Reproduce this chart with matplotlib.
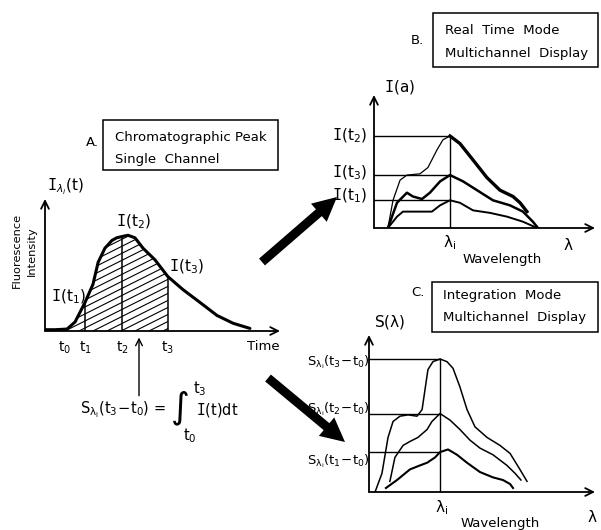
import numpy as np
import matplotlib
matplotlib.use("Agg")
import matplotlib.pyplot as plt
from matplotlib.patches import Rectangle, FancyArrow, Polygon

W, H = 601, 530
plt.rcParams['font.family'] = ['DejaVu Sans']
plt.rcParams['mathtext.fontset'] = 'custom'
plt.rcParams['mathtext.rm'] = 'DejaVu Sans'
plt.rcParams['mathtext.it'] = 'DejaVu Sans:italic'
plt.rcParams['mathtext.tt'] = 'DejaVu Sans Mono'

# ---------------- data ----------------
# A. chromatographic peak on a single channel (time, intensity)
chrom_time = [0.0, 0.43, 0.94, 1.28, 1.70, 2.04, 2.26, 2.55, 2.85, 3.05, 3.28, 3.53,
              3.83, 4.17, 4.68, 5.23, 5.87, 6.60, 7.32, 8.00, 8.72]
chrom_int = [0.01, 0.01, 0.015, 0.07, 0.22, 0.36, 0.53, 0.64, 0.70, 0.72, 0.73, 0.74,
             0.72, 0.64, 0.55, 0.42, 0.32, 0.22, 0.12, 0.06, 0.02]
t_marks = [0.85, 1.70, 3.28, 5.23]          # t0, t1, t2, t3
t_labels = ['$\\mathrm{t_0}$', '$\\mathrm{t_1}$', '$\\mathrm{t_2}$', '$\\mathrm{t_3}$']
t_arrow = 4.0

# B. real-time spectra at t1, t2, t3 (wavelength, intensity)
lambda_i_B = 3.44
specB_t2_x = [0.63, 0.86, 1.18, 1.49, 2.08, 2.44, 2.85, 3.12, 3.44, 3.89, 4.48,
              5.11, 5.70, 6.29, 6.61, 6.92]
specB_t2_y = [0.0, 0.22, 0.38, 0.42, 0.43, 0.48, 0.62, 0.70, 0.73, 0.67, 0.54,
              0.40, 0.30, 0.25, 0.20, 0.13]
specB_t3_x = [0.63, 1.04, 1.49, 1.76, 2.17, 2.53, 2.99, 3.44, 4.03, 4.66, 5.38,
              6.15, 6.74, 7.19, 7.42]
specB_t3_y = [0.0, 0.20, 0.28, 0.25, 0.23, 0.28, 0.37, 0.42, 0.37, 0.30, 0.22,
              0.18, 0.13, 0.05, 0.0]
specB_t1_x = [0.63, 1.04, 1.31, 1.95, 2.62, 2.99, 3.44, 3.89, 4.48, 5.25, 6.02,
              6.74, 7.38]
specB_t1_y = [0.0, 0.09, 0.13, 0.13, 0.13, 0.18, 0.22, 0.20, 0.14, 0.12, 0.09,
              0.05, 0.0]
levels_B = [0.22, 0.73, 0.42]               # I(t1), I(t2), I(t3)

# C. integrated spectra (wavelength, signal)
lambda_i_C = 3.40
specC_3_x = [0.29, 0.62, 0.77, 0.91, 1.15, 1.48, 1.87, 2.30, 2.54, 2.68, 2.82,
             3.06, 3.40, 3.73, 4.02, 4.35, 4.69, 5.07, 5.65, 6.27, 6.75, 7.22, 7.56]
specC_3_y = [0.0, 0.14, 0.28, 0.41, 0.53, 0.57, 0.58, 0.57, 0.62, 0.77, 0.92,
             0.98, 1.00, 0.98, 0.93, 0.79, 0.62, 0.49, 0.41, 0.35, 0.29, 0.17, 0.08]
specC_2_x = [1.00, 1.24, 1.63, 1.96, 2.34, 2.78, 3.01, 3.40, 3.88, 4.35, 4.83,
             5.31, 5.93, 6.60, 6.99, 7.27]
specC_2_y = [0.08, 0.26, 0.35, 0.38, 0.41, 0.47, 0.53, 0.59, 0.54, 0.47, 0.39,
             0.33, 0.28, 0.20, 0.14, 0.09]
specC_1_x = [0.81, 1.34, 1.96, 2.44, 2.78, 3.16, 3.40, 3.78, 4.21, 4.69, 5.31,
             5.93, 6.41, 6.75, 6.89]
specC_1_y = [0.03, 0.09, 0.17, 0.20, 0.22, 0.26, 0.30, 0.32, 0.28, 0.22, 0.15,
             0.11, 0.09, 0.06, 0.03]
levels_C = [0.30, 0.59, 1.00]               # S(t1-t0), S(t2-t0), S(t3-t0)

# ---------------- figure ----------------
fig = plt.figure(figsize=(W / 100, H / 100), dpi=100)
ov = fig.add_axes([0, 0, 1, 1])
ov.set_xlim(0, W)
ov.set_ylim(H, 0)
ov.axis('off')


def panel(x0, ybase, x1, ytop, xmax, ymax):
    ax = fig.add_axes([x0 / W, 1 - ybase / H, (x1 - x0) / W, (ybase - ytop) / H])
    ax.set_xlim(0, xmax)
    ax.set_ylim(0, ymax)
    ax.axis('off')
    ax.patch.set_alpha(0)
    for frac in [(0, 1), (1, 0)]:
        ax.annotate('', xy=frac, xytext=(0, 0), xycoords='axes fraction',
                    arrowprops=dict(arrowstyle='->', lw=1.3, color='k',
                                    mutation_scale=14, shrinkA=0, shrinkB=0))
    return ax


def I_lab(sub):
    return r'$\mathtt{I}\mathrm{(t_%s)}$' % sub


# ----- panel A -----
axA = panel(45, 331, 280, 199, 10.0, 1.02)
axA.plot(chrom_time, chrom_int, color='k', lw=2.2, solid_capstyle='round',
         solid_joinstyle='round')
tt = np.linspace(t_marks[0], t_marks[3], 200)
ii = np.interp(tt, chrom_time, chrom_int)
poly = np.column_stack([np.r_[tt, tt[::-1]], np.r_[ii, np.zeros_like(ii)]])
clip = Polygon(poly, closed=True, facecolor='none', edgecolor='none')
axA.add_patch(clip)
# shallow diagonal hatching under the peak between t0 and t3
slope = 0.5 * (23.5 / 129.0)
for c in np.arange(-1.0, 1.0, 7.0 / 129.0):
    hl, = axA.plot([0, 10], [c, c + slope * 10], color='k', lw=0.8)
    hl.set_clip_path(clip)
for tm in t_marks[1:]:
    axA.plot([tm, tm], [0, np.interp(tm, chrom_time, chrom_int)], color='k', lw=1.1)
for tm, lab in zip(t_marks, t_labels):
    axA.text(tm, -0.07, lab, ha='center', va='top', fontsize=10)
axA.annotate('', xy=(t_arrow, -0.05), xytext=(t_arrow, -0.5),
             arrowprops=dict(arrowstyle='->', lw=1.0, color='k', mutation_scale=12,
                             shrinkA=0, shrinkB=0), annotation_clip=False)

# ----- panel B -----
axB = panel(374, 228, 595, 95, 221 / 22.1, 133 / 126)
for lv in levels_B:
    axB.plot([0, lambda_i_B], [lv, lv], color='k', lw=1.0)
axB.plot([lambda_i_B, lambda_i_B], [0, max(levels_B)], color='k', lw=1.0)
cut = specB_t2_x.index(lambda_i_B) + 1
axB.plot(specB_t2_x[:cut], specB_t2_y[:cut], color='k', lw=0.9)
axB.plot(specB_t2_x[cut - 1:], specB_t2_y[cut - 1:], color='k', lw=2.4,
         solid_joinstyle='round')
axB.plot(specB_t3_x, specB_t3_y, color='k', lw=1.8, solid_joinstyle='round')
axB.plot(specB_t1_x, specB_t1_y, color='k', lw=1.4, solid_joinstyle='round')

# ----- panel C -----
axC = panel(369, 492, 595, 335, 226 / 20.9, 157 / 133)
for lv in levels_C:
    axC.plot([0, lambda_i_C], [lv, lv], color='k', lw=1.0)
axC.plot([lambda_i_C, lambda_i_C], [0, max(levels_C)], color='k', lw=1.0)
axC.plot(specC_3_x, specC_3_y, color='k', lw=1.1)
axC.plot(specC_2_x, specC_2_y, color='k', lw=1.1)
axC.plot(specC_1_x, specC_1_y, color='k', lw=1.5)

# ----- boxes and captions -----
for (x0, y0, x1, y1) in [(103, 120, 278, 170), (433, 13, 598, 67), (432, 282, 598, 332)]:
    ov.add_patch(Rectangle((x0, y0), x1 - x0, y1 - y0, fill=False, lw=1.1, ec='k'))

fs = 9.5
ov.text(92, 142, 'A.', fontsize=fs, ha='center', va='center')
ov.text(115, 138, 'Chromatographic Peak', fontsize=fs, va='center')
ov.text(115, 160, 'Single  Channel', fontsize=fs, va='center')
ov.text(417, 40, 'B.', fontsize=fs, ha='center', va='center')
ov.text(445, 30, 'Real  Time  Mode', fontsize=fs, va='center')
ov.text(445, 53, 'Multichannel  Display', fontsize=fs, va='center')
ov.text(418, 293, 'C.', fontsize=fs, ha='center', va='center')
ov.text(443, 295, 'Integration  Mode', fontsize=fs, va='center')
ov.text(443, 318, 'Multichannel  Display', fontsize=fs, va='center')

# axis titles and value labels
ov.text(66, 187, r'$\mathtt{I}_{\lambda_i}\mathrm{(t)}$', fontsize=11, ha='center', va='center')
ov.text(17, 250, 'Fluorescence', fontsize=8.2, rotation=90, ha='center', va='center')
ov.text(32, 251, 'Intensity', fontsize=8.2, rotation=90, ha='center', va='center')
ov.text(263, 347, 'Time', fontsize=9.5, ha='center', va='center')
ov.text(134, 222, I_lab('2'), fontsize=11, ha='center', va='center')
ov.text(187, 267, I_lab('3'), fontsize=11, ha='center', va='center')
ov.text(86, 297, I_lab('1'), fontsize=11, ha='right', va='center')

# integral relation under the time axis
ov.text(80, 410, r'$\mathrm{S_{\lambda_i}(t_3\!-\!t_0)}$ =', fontsize=10.5, ha='left', va='center')
ov.text(179, 409, r'$\int$', fontsize=26, ha='center', va='center')
ov.text(193, 389, r'$\mathrm{t_3}$', fontsize=10.5, ha='left', va='center')
ov.text(190, 436, r'$\mathrm{t_0}$', fontsize=10.5, ha='center', va='center')
ov.text(196, 410, r'$\mathtt{I}\mathrm{(t)dt}$', fontsize=10.5, ha='left', va='center')

ov.text(400, 87, r'$\mathtt{I}\mathrm{(a)}$', fontsize=11, ha='center', va='center')
ov.text(367, 136, I_lab('2'), fontsize=11, ha='right', va='center')
ov.text(367, 173, I_lab('3'), fontsize=11, ha='right', va='center')
ov.text(367, 196, I_lab('1'), fontsize=11, ha='right', va='center')
ov.text(450, 243, r'$\mathrm{\lambda_i}$', fontsize=11, ha='center', va='center')
ov.text(568, 245, r'$\mathrm{\lambda}$', fontsize=11, ha='center', va='center')
ov.text(502, 260, 'Wavelength', fontsize=9.5, ha='center', va='center')

ov.text(390, 322, r'$\mathrm{S(\lambda)}$', fontsize=11, ha='center', va='center')
ov.text(370, 362, r'$\mathrm{S_{\lambda_i}(t_3\!-\!t_0)}$', fontsize=9.5, ha='right', va='center')
ov.text(370, 409, r'$\mathrm{S_{\lambda_i}(t_2\!-\!t_0)}$', fontsize=9.5, ha='right', va='center')
ov.text(370, 461, r'$\mathrm{S_{\lambda_i}(t_1\!-\!t_0)}$', fontsize=9.5, ha='right', va='center')
ov.text(442, 508, r'$\mathrm{\lambda_i}$', fontsize=11, ha='center', va='center')
ov.text(592, 517, r'$\mathrm{\lambda}$', fontsize=11, ha='center', va='center')
ov.text(500, 524, 'Wavelength', fontsize=9.5, ha='center', va='center')

# thick transfer arrows
for (xa, ya, xb, yb) in [(262, 262, 337, 197), (268, 378, 345, 442)]:
    ov.add_patch(FancyArrow(xa, ya, xb - xa, yb - ya, width=9, head_width=24,
                            head_length=24, length_includes_head=True,
                            color='k', lw=0))

fig.savefig('out.png', dpi=100)
